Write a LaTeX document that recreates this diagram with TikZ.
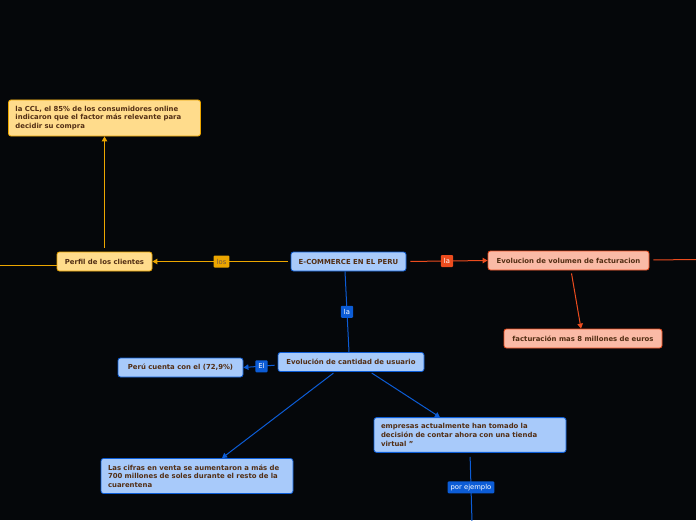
\documentclass[tikz,border=0pt]{standalone}
\usepackage{fontspec}
\setmainfont{DejaVu Sans}
\usepackage{xcolor}
\usetikzlibrary{arrows.meta, positioning}
\definecolor{bgblack}{RGB}{5, 7, 10}
\definecolor{nodeblue}{RGB}{168, 202, 250}
\definecolor{edgeblue}{RGB}{12, 92, 214}
\definecolor{nodegold}{RGB}{255, 220, 140}
\definecolor{edgegold}{RGB}{236, 166, 0}
\definecolor{nodesalmon}{RGB}{250, 186, 166}
\definecolor{edgered}{RGB}{236, 76, 30}
\definecolor{textbrown}{RGB}{82, 46, 20}
\hyphenpenalty=10000
\exhyphenpenalty=10000

\begin{document}
\begin{tikzpicture}[
    x=1pt, y=-1pt,
    topic/.style={rectangle, rounded corners=2.5pt, line width=0.8pt, text=textbrown,
                  font=\fontsize{6.9}{8.7}\selectfont\bfseries, inner xsep=7pt,
                  minimum height=19pt, align=center},
    longtopic/.style={topic, text width=178pt, align=left, inner ysep=6pt},
    bluebox/.style={topic, draw=edgeblue, fill=nodeblue},
    goldbox/.style={topic, draw=edgegold, fill=nodegold},
    redbox/.style={topic, draw=edgered, fill=nodesalmon},
    tag/.style={rectangle, rounded corners=1pt, inner xsep=3pt, inner ysep=1.5pt, minimum height=12pt,
                font=\fontsize{6.8}{7}\selectfont, text=white},
    link/.style={line width=1pt},
    tip/.style={-{Triangle[length=5pt,width=5.5pt]}}
]
\useasboundingbox[fill=bgblack] (0,0) rectangle (696,520);

\node[bluebox, minimum width=115pt] (root) at (348.5,261.5) {E-COMMERCE EN EL PERU};
\node[goldbox, minimum width=95pt] (perfil) at (104.5,261.5) {Perfil de los clientes};
\node[goldbox, longtopic] (ccl) at (104.5,118) {la CCL, el 85\% de los consumidores online indicaron que el factor más relevante para decidir su compra};
\node[redbox, minimum width=161pt] (evolvol) at (568.5,260.5) {Evolucion de volumen de facturacion};
\node[redbox, minimum width=158pt] (fact) at (583,338.5) {facturación mas 8 millones de euros};
\node[bluebox, minimum width=146pt] (evolcant) at (351,362) {Evolución de cantidad de usuario};
\node[bluebox, minimum width=125pt] (peru) at (180.5,367.5) {Perú cuenta con el (72,9\%)};
\node[bluebox, longtopic] (cifras) at (197,476) {Las cifras en venta se aumentaron a más de 700 millones de soles durante el resto de la cuarentena};
\node[bluebox, longtopic] (empresas) at (470,435) {empresas actualmente han tomado la decisión de contar ahora con una tienda virtual "};

\coordinate (offleft) at (0,265);
\coordinate (offright) at (696,259.5);
\coordinate (offbottom) at (472,522);

% perfil de los clientes
\draw[link, edgegold, tip, shorten <=3pt] (root.west) -- node[tag, fill=edgegold, text=textbrown!80] {los} (perfil.east);
\draw[link, edgegold] ([yshift=-3.5pt]perfil.west) -- (offleft);
\draw[link, edgegold, tip, shorten <=4pt] (perfil.north) -- (ccl.south);

% facturacion
\draw[link, edgered, tip, shorten <=4pt] (root.east) -- node[tag, fill=edgered] {la} (evolvol.west);
\draw[link, edgered, shorten <=4pt] ([yshift=0.5pt]evolvol.east) -- (offright);
\draw[link, edgered, tip, shorten <=3pt] ([xshift=2.5pt]evolvol.south) -- ([xshift=-2pt]fact.north);

% usuarios
\draw[link, edgeblue] ([xshift=-3.5pt]root.south) -- node[tag, fill=edgeblue] {la} ([xshift=-2pt]evolcant.north);
\draw[link, edgeblue, tip, shorten <=3pt] ([yshift=-3pt]evolcant.west) -- (peru.east) node[midway, tag, fill=edgeblue, xshift=1pt] {El};
\draw[link, edgeblue, tip, shorten <=2pt] ([xshift=-16pt]evolcant.south) -- ([xshift=25pt]cifras.north);
\draw[link, edgeblue, tip, shorten <=2pt] ([xshift=19pt]evolcant.south) -- ([xshift=-30pt]empresas.north);
\draw[link, edgeblue, shorten <=4pt] (empresas.south) -- node[tag, fill=edgeblue, pos=0.5] {por ejemplo} (offbottom);
\end{tikzpicture}
\end{document}
